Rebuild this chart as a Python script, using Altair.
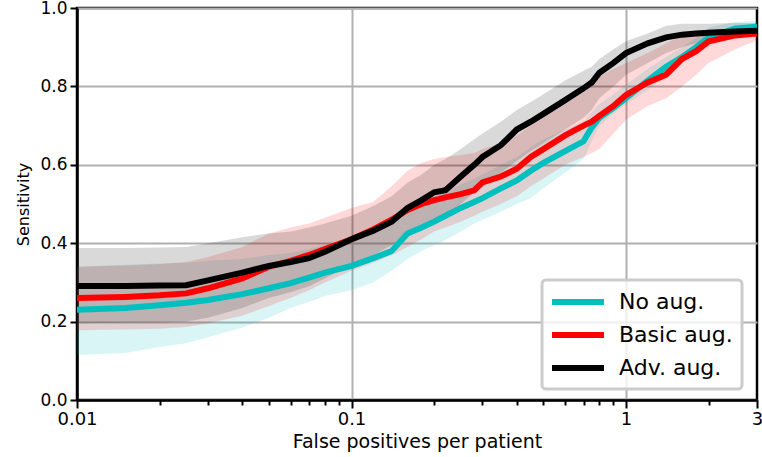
import altair as alt
import pandas as pd

series = ["No aug.", "Basic aug.", "Adv. aug."]
colors = ["#00bfbf", "#ff0000", "#000000"]

fp = [0.01, 0.015, 0.02, 0.025, 0.03, 0.04, 0.05, 0.06, 0.07, 0.08, 0.1, 0.12, 0.14,
      0.16, 0.18, 0.2, 0.22, 0.25, 0.28, 0.3, 0.35, 0.4, 0.45, 0.5, 0.6, 0.7, 0.75,
      0.8, 0.9, 1.0, 1.2, 1.4, 1.6, 1.8, 2.0, 2.5, 3.0]

no_mean = [0.23, 0.235, 0.242, 0.248, 0.255, 0.27, 0.285, 0.298, 0.312, 0.325, 0.342, 0.362, 0.38,
           0.425, 0.44, 0.455, 0.47, 0.49, 0.505, 0.515, 0.54, 0.56, 0.585, 0.605, 0.635, 0.66, 0.695,
           0.72, 0.745, 0.77, 0.815, 0.85, 0.875, 0.9, 0.925, 0.948, 0.952]
no_lo = [0.115, 0.12, 0.135, 0.145, 0.16, 0.185, 0.21, 0.235, 0.25, 0.265, 0.28, 0.3, 0.33,
         0.36, 0.38, 0.395, 0.408, 0.43, 0.45, 0.46, 0.48, 0.5, 0.515, 0.54, 0.58, 0.615, 0.66,
         0.7, 0.73, 0.755, 0.79, 0.83, 0.86, 0.88, 0.9, 0.93, 0.935]
no_hi = [0.34, 0.345, 0.348, 0.35, 0.355, 0.36, 0.37, 0.375, 0.385, 0.395, 0.41, 0.43, 0.445,
         0.48, 0.5, 0.515, 0.53, 0.55, 0.565, 0.575, 0.6, 0.62, 0.645, 0.665, 0.69, 0.71, 0.735,
         0.755, 0.78, 0.805, 0.845, 0.875, 0.9, 0.925, 0.95, 0.965, 0.967]

basic_mean = [0.26, 0.263, 0.267, 0.272, 0.285, 0.31, 0.34, 0.355, 0.37, 0.385, 0.41, 0.435, 0.46,
              0.485, 0.5, 0.51, 0.517, 0.525, 0.535, 0.555, 0.57, 0.59, 0.62, 0.64, 0.675, 0.7, 0.71,
              0.725, 0.75, 0.778, 0.81, 0.83, 0.87, 0.89, 0.915, 0.93, 0.935]
basic_lo = [0.178, 0.18, 0.182, 0.186, 0.195, 0.215, 0.24, 0.26, 0.28, 0.3, 0.33, 0.35, 0.37,
            0.39, 0.41, 0.43, 0.44, 0.455, 0.47, 0.48, 0.5, 0.52, 0.545, 0.565, 0.6, 0.62, 0.63,
            0.64, 0.68, 0.715, 0.75, 0.77, 0.8, 0.83, 0.86, 0.895, 0.918]
basic_hi = [0.34, 0.343, 0.347, 0.352, 0.365, 0.39, 0.425, 0.44, 0.45, 0.465, 0.49, 0.505, 0.545,
            0.585, 0.605, 0.615, 0.62, 0.625, 0.63, 0.64, 0.655, 0.675, 0.7, 0.72, 0.755, 0.785, 0.8,
            0.825, 0.845, 0.86, 0.885, 0.91, 0.93, 0.94, 0.945, 0.945, 0.945]

adv_mean = [0.291, 0.291, 0.292, 0.293, 0.305, 0.325, 0.342, 0.352, 0.362, 0.378, 0.41, 0.432, 0.455,
            0.49, 0.51, 0.53, 0.535, 0.57, 0.6, 0.62, 0.65, 0.69, 0.71, 0.73, 0.765, 0.795, 0.81,
            0.835, 0.86, 0.885, 0.91, 0.925, 0.932, 0.935, 0.937, 0.94, 0.942]
adv_lo = [0.196, 0.197, 0.198, 0.2, 0.21, 0.235, 0.26, 0.275, 0.29, 0.31, 0.345, 0.37, 0.395,
          0.42, 0.44, 0.46, 0.47, 0.5, 0.53, 0.55, 0.58, 0.61, 0.635, 0.655, 0.69, 0.72, 0.74,
          0.77, 0.8, 0.83, 0.86, 0.885, 0.9, 0.91, 0.915, 0.925, 0.93]
adv_hi = [0.388, 0.388, 0.389, 0.39, 0.4, 0.415, 0.425, 0.43, 0.44, 0.45, 0.47, 0.495, 0.52,
          0.555, 0.575, 0.6, 0.615, 0.64, 0.665, 0.68, 0.71, 0.74, 0.76, 0.78, 0.815, 0.84, 0.85,
          0.87, 0.895, 0.915, 0.935, 0.955, 0.96, 0.96, 0.96, 0.962, 0.962]

x_ticks = [0.01, 0.02, 0.03, 0.04, 0.05, 0.06, 0.07, 0.08, 0.09,
           0.1, 0.2, 0.3, 0.4, 0.5, 0.6, 0.7, 0.8, 0.9, 1, 2, 3]
y_ticks = [0.0, 0.2, 0.4, 0.6, 0.8, 1.0]

rows = []
for name, m, lo, hi in [(series[0], no_mean, no_lo, no_hi),
                        (series[1], basic_mean, basic_lo, basic_hi),
                        (series[2], adv_mean, adv_lo, adv_hi)]:
    for x, a, b, c in zip(fp, m, lo, hi):
        rows.append({"fp": x, "series": name, "mean": a, "lo": b, "hi": c})
df = pd.DataFrame(rows)

FONT = "DejaVu Sans"
major = "indexof([0.01, 0.1, 1, 3], datum.value) >= 0"

x_axis = alt.Axis(
    values=x_ticks, format="~g",
    labelExpr=major + " ? datum.label : ''",
    gridColor={"condition": {"test": "datum.value == 0.1 || datum.value == 1", "value": "#b0b0b0"},
               "value": "rgba(0,0,0,0)"},
    tickSize={"condition": {"test": major, "value": 8}, "value": 5},
    labelOverlap=False, labelFlush=False, labelBound=False,
    title="False positives per patient", titleFontSize=19, titlePadding=4,
    labelFontSize=18, labelPadding=2,
)
y_axis = alt.Axis(
    values=y_ticks, format=".1f", title="Sensitivity", titleFontSize=16,
    titlePadding=8, labelFontSize=17, tickSize=7, labelPadding=3,
    gridColor="#b0b0b0",
)

X = alt.X("fp:Q", scale=alt.Scale(type="log", domain=[0.01, 3], nice=False), axis=x_axis)
yscale = alt.Scale(domain=[0, 1], nice=False)

base = alt.Chart(df)
layers = []
for name, col in zip(series, colors):
    layers.append(
        base.transform_filter(alt.datum.series == name)
        .mark_area(opacity=0.15, color=col, clip=True)
        .encode(x=X, y=alt.Y("lo:Q", scale=yscale, axis=y_axis), y2="hi:Q")
    )
legend = alt.Legend(
    title=None, orient="none", legendX=465, legendY=272,
    symbolType="M-2.6,0L2.6,0", symbolSize=400, symbolStrokeWidth=6,
    symbolOffset=14, labelOffset=28,
    labelFontSize=22, labelFont=FONT, rowPadding=8,
    padding=9, cornerRadius=4, strokeColor="#cccccc",
    fillColor="rgba(255,255,255,0.8)",
)
for name in series:
    layers.append(
        base.transform_filter(alt.datum.series == name)
        .mark_line(strokeWidth=6, clip=True)
        .encode(
            x=X,
            y=alt.Y("mean:Q", scale=yscale, axis=y_axis),
            color=alt.Color("series:N", scale=alt.Scale(domain=series, range=colors),
                            legend=legend),
        )
    )

chart = (
    alt.layer(*layers)
    .properties(
        width=680, height=392,
        autosize=alt.AutoSizeParams(type="none"),
        padding={"left": 77, "top": 8, "right": 5, "bottom": 57},
    )
    .configure_view(stroke="black", strokeWidth=2.5)
    .configure_axis(
        domainColor="black", domainWidth=2.5, tickColor="black", tickWidth=2,
        labelFont=FONT, titleFont=FONT, labelColor="black", titleColor="black",
        titleFontWeight="normal", gridWidth=2,
    )
    .configure_legend(strokeWidth=3)
)

chart.save("out.html", embed_options={"renderer": "svg", "actions": False})
